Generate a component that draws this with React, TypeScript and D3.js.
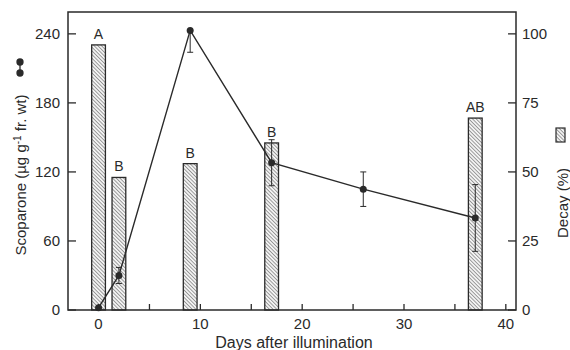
import * as d3 from 'd3';

// bars: decay (%), right axis
const barDays = [0, 2, 9, 17, 37];
const decay = [96, 48, 53, 60.5, 69.5];
const barLetters = ['A', 'B', 'B', 'B', 'AB'];

// line: scoparone (µg g-1 fr. wt), left axis
const lineDays = [0, 2, 9, 17, 26, 37];
const scoparone = [2, 30, 243, 128, 105, 80];
const errUp = [0, 7, 0, 20, 15, 29];
const errDown = [0, 7, 19, 20, 15, 29];

const xTicks = [0, 10, 20, 30, 40];
const xMinor = [5, 15, 25, 35];
const leftTicks = [0, 60, 120, 180, 240];
const rightTicks = [0, 25, 50, 75, 100];

const W = 570;
const H = 350;
const L = 68, R = 516, T = 12, B = 310;
const FONT = '"Liberation Sans", Arial, sans-serif';
const INK = '#2a2a2a';

export default function App() {
  const x = d3.scaleLinear().domain([-3, 41]).range([L, R]);
  const yL = d3.scaleLinear().domain([0, 259]).range([B, T]);
  const yR = d3.scaleLinear().domain([0, 259 / 2.4]).range([B, T]);
  const barW = x(1.35) - x(0);

  const line = d3.line<number>()
    .x((_, i) => x(lineDays[i]))
    .y(d => yL(d));

  return (
    <svg width={W} height={H} style={{ position: 'absolute', left: 0, top: 0, background: '#fff' }}
      fontFamily={FONT} fill={INK}>
      <defs>
        <pattern id="hatch" width="2.6" height="2.6" patternUnits="userSpaceOnUse"
          patternTransform="rotate(-45)">
          <rect width="2.6" height="2.6" fill="#f2f2f2" />
          <line x1="0" y1="0" x2="0" y2="2.6" stroke="#4a4a4a" strokeWidth="1" />
        </pattern>
      </defs>

      {/* bars */}
      {decay.map((d, i) => (
        <g key={'b' + i}>
          <rect x={x(barDays[i]) - barW / 2} y={yR(d)} width={barW} height={B - yR(d)}
            fill="url(#hatch)" stroke={INK} strokeWidth={1.3} />
          <text x={x(barDays[i])} y={yR(d) - 6} textAnchor="middle" fontSize={14}>{barLetters[i]}</text>
        </g>
      ))}

      {/* line + errors */}
      <path d={line(scoparone) || ''} fill="none" stroke={INK} strokeWidth={1.4} />
      {scoparone.map((v, i) => {
        const cx = x(lineDays[i]);
        const top = yL(v + errUp[i]);
        const bot = yL(v - errDown[i]);
        return (
          <g key={'p' + i} stroke={INK} strokeWidth={1}>
            {errUp[i] + errDown[i] > 0 && <line x1={cx} x2={cx} y1={top} y2={bot} />}
            {errUp[i] > 0 && <line x1={cx - 3} x2={cx + 3} y1={top} y2={top} />}
            {errDown[i] > 0 && <line x1={cx - 3} x2={cx + 3} y1={bot} y2={bot} />}
            <circle cx={cx} cy={yL(v)} r={3.5} fill={INK} stroke="none" />
          </g>
        );
      })}

      {/* frame */}
      <rect x={L} y={T} width={R - L} height={B - T} fill="none" stroke={INK} strokeWidth={1.5} />

      {/* left axis */}
      {leftTicks.map(t => (
        <g key={'l' + t}>
          <line x1={L} x2={L + 8} y1={yL(t)} y2={yL(t)} stroke={INK} strokeWidth={1.3} />
          <text x={L - 8} y={yL(t)} dy="0.35em" textAnchor="end" fontSize={15}>{t}</text>
        </g>
      ))}
      {/* right axis */}
      {rightTicks.map(t => (
        <g key={'r' + t}>
          <line x1={R - 8} x2={R} y1={yR(t)} y2={yR(t)} stroke={INK} strokeWidth={1.3} />
          <text x={R + 6} y={yR(t)} dy="0.35em" textAnchor="start" fontSize={15}>{t}</text>
        </g>
      ))}
      {/* bottom axis */}
      {xTicks.concat(xMinor).map(t => (
        <line key={'x' + t} x1={x(t)} x2={x(t)} y1={B} y2={B - 6} stroke={INK} strokeWidth={1.3} />
      ))}
      {xTicks.map(t => (
        <text key={'xl' + t} x={x(t)} y={329} textAnchor="middle" fontSize={15}>{t}</text>
      ))}
      <text x={294} y={348} textAnchor="middle" fontSize={16}>Days after illumination</text>

      {/* left title + symbol */}
      <text transform={`translate(26,175) rotate(-90)`} textAnchor="middle" fontSize={15}>
        Scoparone (µg g<tspan dy={-5} fontSize={10}>-1</tspan><tspan dy={5}> fr. wt)</tspan>
      </text>
      <g stroke={INK} strokeWidth={1.3}>
        <line x1={20} x2={20} y1={62} y2={73} />
        <circle cx={20} cy={62} r={3} fill={INK} />
        <circle cx={20} cy={73} r={3} fill={INK} />
      </g>

      {/* right title + symbol */}
      <text transform={`translate(568,203) rotate(-90)`} textAnchor="middle" fontSize={15}>Decay (%)</text>
      <rect x={556} y={128} width={9} height={14} fill="url(#hatch)" stroke={INK} strokeWidth={1.2} />
    </svg>
  );
}
